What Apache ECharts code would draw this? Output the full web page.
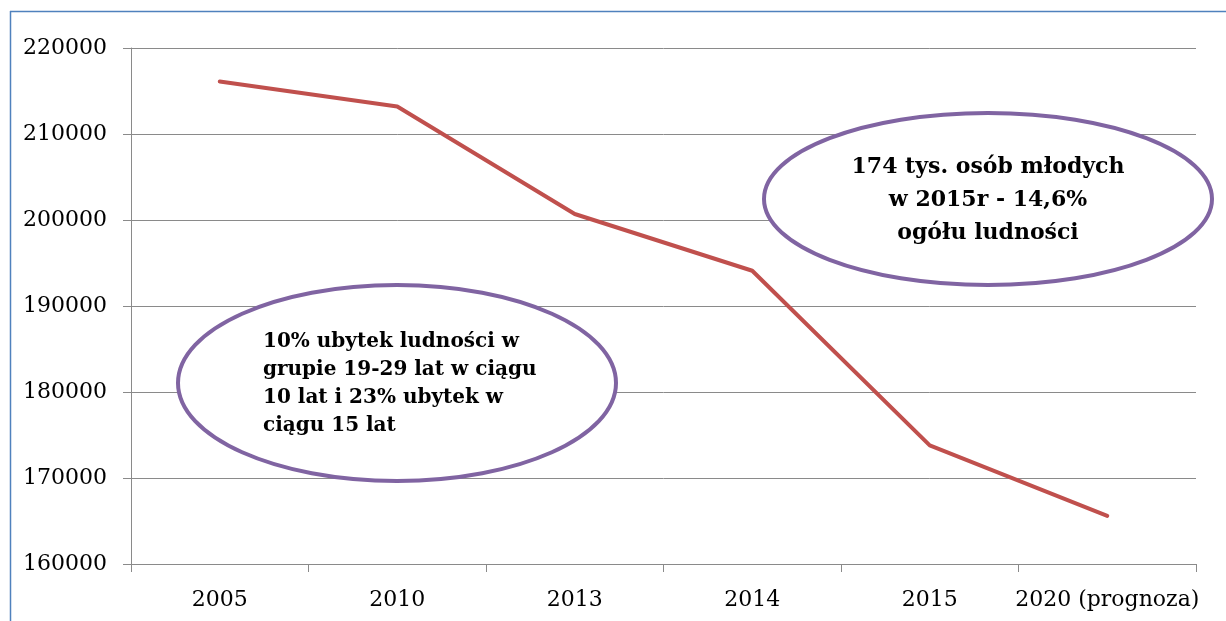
<!DOCTYPE html>
<html>
<head>
<meta charset="utf-8">
<script src="https://cdn.jsdelivr.net/npm/echarts@6/dist/echarts.min.js"></script>
<style>
  html, body { margin: 0; padding: 0; background: #fff; }
  #main { width: 1226px; height: 621px; }
</style>
</head>
<body>
<div id="main"></div>
<script>
// dane
var years = ['2005', '2010', '2013', '2014', '2015', '2020 (prognoza)'];
var population = [216100, 213200, 200700, 194100, 173800, 165600];
var yTicks = [160000, 170000, 180000, 190000, 200000, 210000, 220000];
var noteRight = ['174 tys. osób młodych', 'w 2015r - 14,6%', 'ogółu ludności'];
var noteLeft = ['10% ubytek ludności w', 'grupie 19-29 lat w ciągu', '10 lat i 23% ubytek w', 'ciągu 15 lat'];

(function () {
  var myChart = echarts.init(document.getElementById('main'));
  var serif = '"DejaVu Serif", serif';
  var gray = '#8a8a8a';

  var option = {
    animation: false,
    grid: { left: 131, right: 30, top: 48, bottom: 57 },
    xAxis: {
      type: 'category',
      data: years,
      boundaryGap: true,
      axisLine: { lineStyle: { color: gray, width: 1 } },
      axisTick: { show: true, length: 8, interval: 0, lineStyle: { color: gray } },
      axisLabel: { color: '#000', fontFamily: serif, fontSize: 22, margin: 25, interval: 0 }
    },
    yAxis: {
      type: 'value',
      min: yTicks[0],
      max: yTicks[yTicks.length - 1],
      interval: yTicks[1] - yTicks[0],
      axisLine: { show: true, lineStyle: { color: gray, width: 1 } },
      axisTick: { show: true, length: 8, lineStyle: { color: gray } },
      axisLabel: {
        color: '#000', fontFamily: serif, fontSize: 22, margin: 24,
        formatter: function (v) { return String(v); }
      },
      splitLine: { lineStyle: { color: gray, width: 1 } }
    },
    series: [{
      type: 'line',
      data: population,
      symbol: 'none',
      lineStyle: { color: '#c0504d', width: 4, cap: 'round', join: 'round' }
    }],
    graphic: [
      // ramka
      { type: 'line', z: 1, shape: { x1: 10.5, y1: 11, x2: 10.5, y2: 621 }, style: { stroke: '#4f81bd', lineWidth: 1.5 } },
      { type: 'line', z: 1, shape: { x1: 10, y1: 11.5, x2: 1226, y2: 11.5 }, style: { stroke: '#4f81bd', lineWidth: 1.5 } },
      // elipsy z opisem
      { type: 'ellipse', z: 10, shape: { cx: 988, cy: 199, rx: 224, ry: 86 }, style: { fill: '#fff', stroke: '#8064a2', lineWidth: 4 } },
      { type: 'text', z: 11, x: 988, y: 200, style: {
          text: noteRight.join('\n'), fill: '#000', font: 'bold 22px ' + serif,
          textAlign: 'center', textVerticalAlign: 'middle', lineHeight: 33 } },
      { type: 'ellipse', z: 10, shape: { cx: 397, cy: 383, rx: 219, ry: 98 }, style: { fill: '#fff', stroke: '#8064a2', lineWidth: 4 } },
      { type: 'text', z: 11, x: 263, y: 384, style: {
          text: noteLeft.join('\n'), fill: '#000', font: 'bold 20px ' + serif,
          textAlign: 'left', textVerticalAlign: 'middle', lineHeight: 28 } }
    ]
  };

  myChart.setOption(option);
  window.addEventListener('resize', function () { myChart.resize(); });
})();
</script>
</body>
</html>
